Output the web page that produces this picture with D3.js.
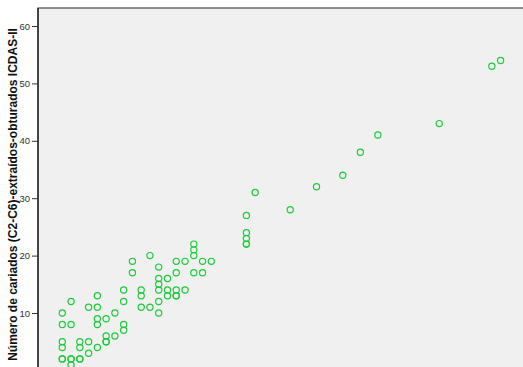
<!DOCTYPE html>
<html>
<head>
<meta charset="utf-8">
<script src="https://cdn.jsdelivr.net/npm/d3@7"></script>
<style>
  html, body { margin: 0; padding: 0; background: #ffffff; }
  svg { display: block; }
</style>
</head>
<body>
<svg id="chart" width="523" height="367"></svg>
<script>
// Scatter data: count on the horizontal variable vs. DMF count (ICDAS-II)
const xValues = [
  0, 0, 0, 0, 0, 0,
  1, 1, 1, 1, 1,
  2, 2, 2, 2,
  3, 3, 3,
  4, 4, 4, 4, 4,
  5, 5, 5, 5,
  6, 6,
  7, 7, 7, 7,
  8, 8,
  9, 9, 9,
  10, 10,
  11, 11, 11, 11, 11, 11,
  12, 12, 12,
  13, 13, 13, 13, 13,
  14, 14,
  15, 15, 15, 15,
  16, 16,
  17,
  21, 21, 21, 21, 21,
  22, 26, 29, 32, 34, 36, 43, 49, 50
];
const yValues = [
  10, 8, 5, 4, 2, 2,
  12, 8, 2, 2, 1,
  5, 4, 2, 2,
  11, 5, 3,
  13, 11, 9, 8, 4,
  9, 6, 5, 5,
  10, 6,
  14, 12, 8, 7,
  19, 17,
  14, 13, 11,
  20, 11,
  18, 16, 15, 14, 12, 10,
  16, 14, 13,
  19, 17, 14, 13, 13,
  19, 14,
  22, 21, 20, 17,
  19, 17,
  19,
  27, 24, 23, 22, 22,
  31, 28, 32, 34, 38, 41, 43, 53, 54
];
const yTicks = [10, 20, 30, 40, 50, 60];
const yTitle = "Número de cariados (C2-C6)-extraídos-obturados ICDAS-II";

const W = 523, H = 367;
const plotLeft = 38, plotTop = 8;

const svg = d3.select("#chart");

const x = d3.scaleLinear().domain([0, 50]).range([62.3, 500.6]);
const y = d3.scaleLinear().domain([10, 60]).range([313, 26]);

// plot background
svg.append("rect")
  .attr("x", plotLeft).attr("y", plotTop)
  .attr("width", W - plotLeft + 2).attr("height", H - plotTop + 2)
  .attr("fill", "#f0f0f0")
  .attr("stroke", "#222").attr("stroke-width", 1);

// y axis
const yAxis = d3.axisLeft(y).tickValues(yTicks).tickSize(6).tickPadding(2);
const gy = svg.append("g")
  .attr("transform", `translate(${plotLeft},0)`)
  .call(yAxis);
gy.select(".domain").remove();
gy.selectAll(".tick line").attr("stroke", "#333").attr("stroke-width", 1);
gy.selectAll(".tick text")
  .attr("fill", "#333")
  .style("font-family", "'Liberation Sans', Arial, sans-serif")
  .style("font-size", "9.5px");

// axis line
svg.append("line")
  .attr("x1", plotLeft).attr("x2", plotLeft)
  .attr("y1", plotTop).attr("y2", H)
  .attr("stroke", "#333").attr("stroke-width", 1.6);

// y title
svg.append("text")
  .attr("transform", `translate(17,${194.5}) rotate(-90)`)
  .attr("text-anchor", "middle")
  .style("font-family", "'Liberation Sans', Arial, sans-serif")
  .style("font-weight", "bold")
  .style("font-size", "12px")
  .attr("fill", "#111")
  .text(yTitle);

// points
const pts = xValues.map((v, i) => ({ x: v, y: yValues[i] }));
svg.append("g")
  .selectAll("circle")
  .data(pts)
  .join("circle")
  .attr("cx", d => x(d.x))
  .attr("cy", d => y(d.y))
  .attr("r", 3.1)
  .attr("fill", "none")
  .attr("stroke", "#1ccc3a")
  .attr("stroke-width", 1.2);
</script>
</body>
</html>
